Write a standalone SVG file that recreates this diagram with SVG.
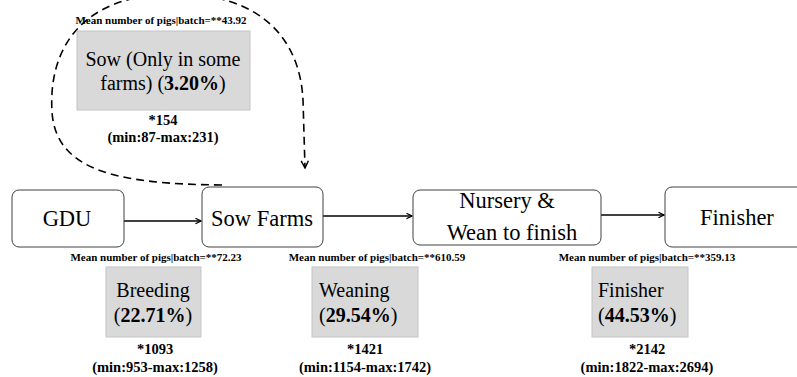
<svg xmlns="http://www.w3.org/2000/svg" width="797" height="377" viewBox="0 0 797 377">
<defs>
<marker id="arr" viewBox="0 0 10 10" refX="9" refY="5" markerWidth="7" markerHeight="7" orient="auto" markerUnits="userSpaceOnUse">
<path d="M1,1 L9,5 L1,9" fill="none" stroke="#000" stroke-width="1.6"/>
</marker>
<marker id="arrd" viewBox="0 0 10 10" refX="9" refY="5" markerWidth="9" markerHeight="9" orient="auto" markerUnits="userSpaceOnUse">
<path d="M1,1 L9,5 L1,9" fill="none" stroke="#000" stroke-width="1.6"/>
</marker>
</defs>
<style>
text{font-family:'Liberation Serif','Times New Roman',Times,'DejaVu Serif',serif;fill:#000;}
.box{fill:#fff;stroke:#404040;stroke-width:1;}
.gray{fill:#d9d9d9;stroke:#c4c4c4;stroke-width:1;}
.main{font-size:22.5px;text-anchor:middle;}
.gt{font-size:20px;}
.b{font-weight:bold;}
.mean{font-size:11px;font-weight:bold;text-anchor:middle;}
.stat{font-size:14.5px;font-weight:bold;text-anchor:middle;}
.con{fill:none;stroke:#000;stroke-width:1.6;}
</style>
<rect width="797" height="377" fill="#fff"/>
<g id="connectors">
<line class="con" x1="124" y1="221" x2="201" y2="221" marker-end="url(#arr)"/>
<line class="con" x1="323" y1="216" x2="412" y2="216" marker-end="url(#arr)"/>
<line class="con" x1="601" y1="215" x2="664" y2="215" marker-end="url(#arr)"/>
<path class="con" d="M222,185 C120,184 56,172 52,112 C48,45 85,-4 170,-6 C262,-8 300,40 303,100 L305,168" stroke-dasharray="8,5" stroke-width="2" marker-end="url(#arrd)"/>
</g>
<g id="gdu">
<rect class="box" x="12" y="190" width="112" height="57" rx="7"/>
<text class="main" x="67" y="226">GDU</text>
</g>
<g id="sow-farms">
<rect class="box" x="202" y="187" width="121" height="60" rx="7"/>
<text class="main" x="262" y="226">Sow Farms</text>
</g>
<g id="nursery">
<rect class="box" x="413" y="190" width="188" height="55" rx="7"/>
<text class="main" x="507" y="208">Nursery &amp;</text>
<text class="main" x="512" y="240">Wean to finish</text>
</g>
<g id="finisher">
<rect class="box" x="665" y="187" width="146" height="60" rx="7"/>
<text class="main" x="737" y="225">Finisher</text>
</g>
<g id="sow-stage">
<text class="mean" x="161" y="24">Mean number of pigs|batch=**43.92</text>
<rect class="gray" x="77" y="31" width="173" height="79"/>
<text class="gt" x="163" y="66" text-anchor="middle">Sow (Only in some</text>
<text class="gt" x="163" y="90" text-anchor="middle">farms) (<tspan class="b">3.20%</tspan>)</text>
<text class="stat" x="163" y="125">*154</text>
<text class="stat" x="163" y="142">(min:87-max:231)</text>
</g>
<g id="breeding">
<text class="mean" x="156" y="261">Mean number of pigs|batch=**72.23</text>
<rect class="gray" x="106" y="267" width="95" height="70"/>
<text class="gt" x="153" y="297" text-anchor="middle">Breeding</text>
<text class="gt" x="153" y="322" text-anchor="middle">(<tspan class="b">22.71%</tspan>)</text>
<text class="stat" x="155" y="354">*1093</text>
<text class="stat" x="155" y="372">(min:953-max:1258)</text>
</g>
<g id="weaning">
<text class="mean" x="377" y="261">Mean number of pigs|batch=**610.59</text>
<rect class="gray" x="312" y="267" width="106" height="70"/>
<text class="gt" x="319" y="297">Weaning</text>
<text class="gt" x="319" y="322">(<tspan class="b">29.54%</tspan>)</text>
<text class="stat" x="365" y="354">*1421</text>
<text class="stat" x="365" y="372">(min:1154-max:1742)</text>
</g>
<g id="finisher-stage">
<text class="mean" x="647" y="261">Mean number of pigs|batch=**359.13</text>
<rect class="gray" x="592" y="267" width="96" height="70"/>
<text class="gt" x="598" y="297">Finisher</text>
<text class="gt" x="598" y="322">(<tspan class="b">44.53%</tspan>)</text>
<text class="stat" x="647" y="354">*2142</text>
<text class="stat" x="647" y="372">(min:1822-max:2694)</text>
</g>
</svg>
